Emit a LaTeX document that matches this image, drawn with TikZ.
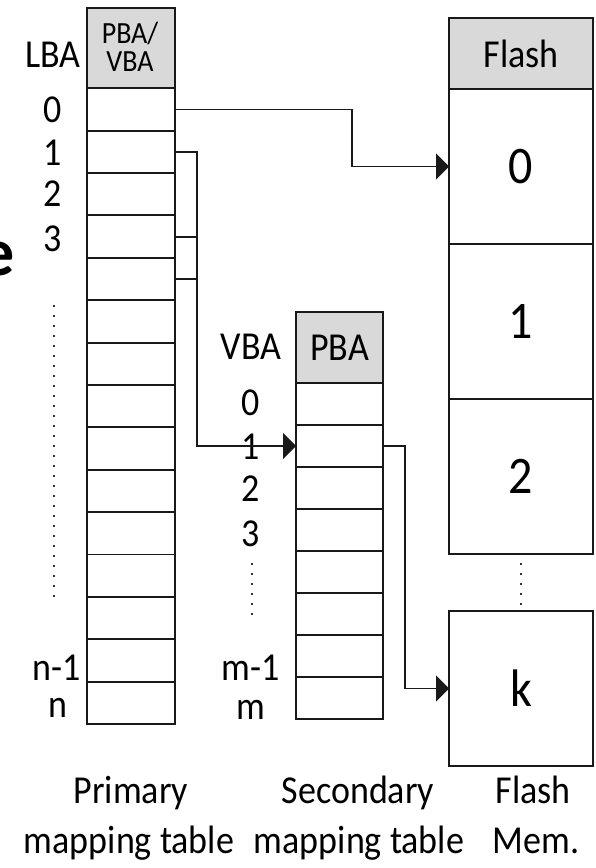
\documentclass[tikz,border=0pt]{standalone}
\usepackage{fontspec}
\usepackage{graphicx}
\setmainfont{Carlito}
\usetikzlibrary{arrows.meta}
\newcommand{\vs}[1]{\scalebox{1}[1.1]{#1}}
\begin{document}
\begin{tikzpicture}[x=1pt,y=-1pt,
  line width=1.9pt,
  cell/.style={draw=black!90, fill=white, inner sep=0pt, outer sep=0pt, anchor=north west},
  head/.style={draw=black!90, fill=black!15, inner sep=0pt, outer sep=0pt, anchor=north west},
  lbl/.style={inner sep=0pt, font=\fontsize{36}{40}\selectfont},
  big/.style={inner sep=0pt, font=\fontsize{48}{52}\selectfont},
  captxt/.style={inner sep=0pt, anchor=base, font=\fontsize{36}{40}\selectfont},
  arr/.style={draw=black!90, -{Triangle[length=13pt,width=26pt]}},
  conn/.style={draw=black!90},
  dots/.style={draw=black!80, line width=1.8pt, dash pattern=on 1.8pt off 8.2pt}
]
\useasboundingbox (0,0) rectangle (596,868);

% cut-off fragment at left edge
\node[inner sep=0pt, anchor=base east, font=\fontsize{68}{70}\selectfont\bfseries] (frag) at (16,275) {e};

% Primary mapping table
\node[head, minimum width=88pt, minimum height=80pt] (ph) at (87,8.3) {};
\node[inner sep=0pt, anchor=base, font=\fontsize{28}{28}\selectfont] (phl1) at (130,43) {\vs{PBA/}};
\node[inner sep=0pt, anchor=base, font=\fontsize{28}{28}\selectfont] (phl2) at (130,71) {\vs{VBA}};
\foreach \i in {0,...,14}{
  \node[cell, minimum width=88pt, minimum height=42.38pt] (p\i) at (87,88.3+\i*42.38) {};
}

% Secondary mapping table
\node[head, minimum width=87pt, minimum height=71pt] (sh) at (296,312) {\vs{\fontsize{36}{40}\selectfont PBA}};
\foreach \i in {0,...,7}{
  \node[cell, minimum width=87pt, minimum height=42pt] (s\i) at (296,383+\i*42) {};
}

% Flash
\node[head, minimum width=144pt, minimum height=71pt] (fh) at (449,18) {\vs{\fontsize{36}{40}\selectfont Flash}};
\node[cell, minimum width=144pt, minimum height=155pt] (f0) at (449,89) {};
\node[cell, minimum width=144pt, minimum height=155pt] (f1) at (449,244) {};
\node[cell, minimum width=144pt, minimum height=155pt] (f2) at (449,399) {};
\node[cell, minimum width=144pt, minimum height=155pt] (fk) at (449,611) {};
\node[big] at (f0.center) {\vs{0}};
\node[big] at (f1.center) {\vs{1}};
\node[big] at (f2.center) {\vs{2}};
\node[big] at (fk.center) {\vs{k}};

% Primary labels
\node[lbl] (lba) at (53,55) {\vs{LBA}};
\node[lbl] (l0) at (53,110) {\vs{0}};
\node[lbl] (l1) at (53,153) {\vs{1}};
\node[lbl] (l2) at (53,194) {\vs{2}};
\node[lbl] (l3) at (53,239) {\vs{3}};
\node[lbl] (ln1) at (57,668) {\vs{n-1}};
\node[lbl] (ln) at (58,708) {\vs{n}};
\draw[dots] (54,305) -- (54,602);

% Secondary labels
\node[lbl] (vba) at (251,347) {\vs{VBA}};
\node[lbl] (v0) at (251,403) {\vs{0}};
\node[lbl] (v1) at (251,447) {\vs{1}};
\node[lbl] (v2) at (251,489) {\vs{2}};
\node[lbl] (v3) at (251,534) {\vs{3}};
\node[lbl] (vm1) at (251,668) {\vs{m-1}};
\node[lbl] (vm) at (251,710) {\vs{m}};
\draw[dots] (252,563) -- (252,620);

% Flash dots
\draw[dots] (521,563) -- (521,609);

% Connectors
\draw[arr] (p0.east) -- ++(177,0) |- (f0.west);
\draw[arr] (p1.east) -- ++(22,0) |- (s1.west);
\draw[conn] (p3.east) -- ++(22,0);
\draw[conn] (p4.east) -- ++(22,0);
\draw[arr] (s1.east) -- ++(22,0) |- (fk.west);

% Captions
\node[captxt] (c1a) at (131,803) {\vs{Primary}};
\node[captxt] (c1b) at (129,853) {\vs{mapping table}};
\node[captxt] (c2a) at (358,803) {\vs{Secondary}};
\node[captxt] (c2b) at (359,853) {\vs{mapping table}};
\node[captxt] (c3a) at (533,803) {\vs{Flash}};
\node[captxt] (c3b) at (536,853) {\vs{Mem.}};
\end{tikzpicture}
\end{document}
